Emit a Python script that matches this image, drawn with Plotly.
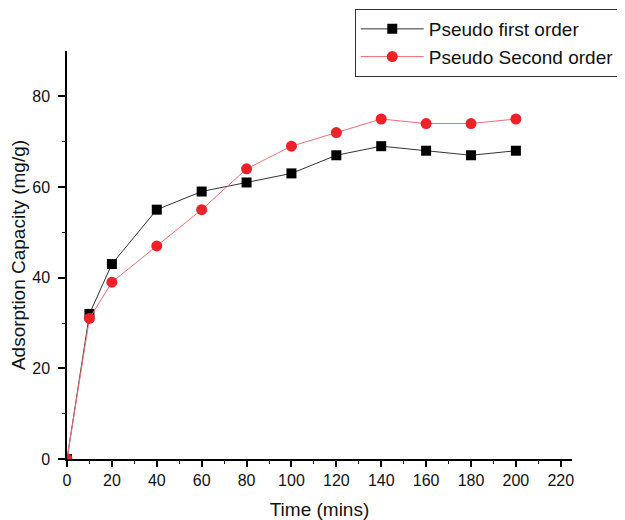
import plotly.graph_objects as go

time_mins = [0, 10, 20, 40, 60, 80, 100, 120, 140, 160, 180, 200]
pseudo_first = [0, 32, 43, 55, 59, 61, 63, 67, 69, 68, 67, 68]
pseudo_second = [0, 31, 39, 47, 55, 64, 69, 72, 75, 74, 74, 75]

fig = go.Figure()
fig.add_trace(go.Scatter(
    x=time_mins, y=pseudo_first, mode="lines+markers", name="Pseudo first order",
    line=dict(color="#333333", width=1),
    marker=dict(symbol="square", size=10, color="black"),
))
fig.add_trace(go.Scatter(
    x=time_mins, y=pseudo_second, mode="lines+markers", name="Pseudo Second order",
    line=dict(color="#f07070", width=1),
    marker=dict(symbol="circle", size=11, color="#ee2028"),
))

FONT = "Liberation Sans, Arial, sans-serif"
axis_font = dict(family=FONT, size=16, color="#111111")
fig.update_layout(
    width=617, height=512,
    margin=dict(l=59, r=53, t=43, b=61, autoexpand=False),
    paper_bgcolor="white", plot_bgcolor="white",
    font=dict(family=FONT, color="#111111"),
    showlegend=True,
    legend=dict(
        xref="container", yref="container",
        x=0.562, y=0.998, xanchor="left", yanchor="top",
        bordercolor="#333333", borderwidth=1, bgcolor="white",
        font=dict(size=19, family=FONT, color="#111111"),
        itemwidth=63, tracegroupgap=0,
    ),
    xaxis=dict(
        range=[0, 225], tickmode="array", tickvals=list(range(0, 221, 20)),
        showgrid=False, zeroline=False, showline=True, linecolor="black", linewidth=1.5,
        ticks="outside", ticklen=6, tickwidth=1.5, tickcolor="black",
        tickfont=axis_font, automargin=False,
        minor=dict(tickvals=list(range(10, 221, 20)), ticks="outside", ticklen=3, tickwidth=1, tickcolor="black"),
        title=dict(text="Time (mins)", font=dict(size=19), standoff=15),
    ),
    yaxis=dict(
        range=[0, 90], tickmode="array", tickvals=[0, 20, 40, 60, 80],
        showgrid=False, zeroline=False, showline=True, linecolor="black", linewidth=1.5,
        ticks="outside", ticklen=7, tickwidth=1.5, tickcolor="black",
        tickfont=axis_font, automargin=False, ticklabelstandoff=5,
        minor=dict(tickvals=[10, 30, 50, 70], ticks="outside", ticklen=3, tickwidth=1, tickcolor="black"),
        title=dict(text="Adsorption Capacity (mg/g)", font=dict(size=19), standoff=10),
    ),
)

fig.write_html("out.html")
